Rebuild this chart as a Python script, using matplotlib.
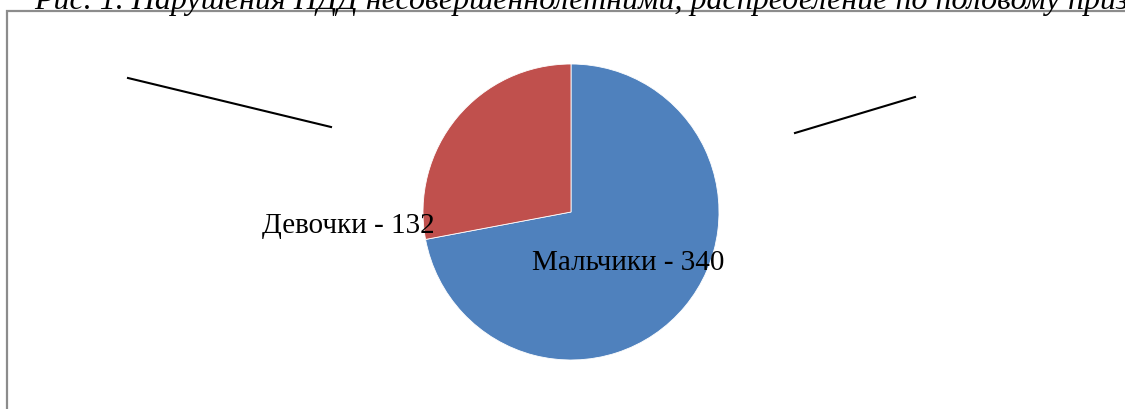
import matplotlib
matplotlib.use("Agg")
import matplotlib.pyplot as plt
from matplotlib.lines import Line2D
from matplotlib.patches import Rectangle

# data
categories = ["Мальчики", "Девочки"]
values = [340, 132]
colors = ["#4F81BD", "#C0504D"]
title = "Рис. 1. Нарушения ПДД несовершеннолетними, распределение по половому признаку"

W, H = 1125, 410
plt.rcParams["font.family"] = ["Liberation Serif", "DejaVu Serif"]

fig = plt.figure(figsize=(W / 100, H / 100), dpi=100)


def px(x, y):
    # pixel coords (top-left origin) -> figure fraction
    return x / W, 1 - y / H


# chart frame, cut by the image edges
fig.add_artist(Rectangle(px(7, 430), (W + 20) / W, 418 / H, transform=fig.transFigure,
                         fill=False, edgecolor="#8c8c8c", linewidth=1.6, clip_on=False))

# title (partly outside the picture)
tx, ty = px(34, 9)
fig.text(tx, ty, title, fontsize=23, fontstyle="italic", va="baseline", ha="left")

# pie
cx, cy, r = 571, 213, 148
l, b = px(cx - r, cy + r)
ax = fig.add_axes([l, b, 2 * r / W, 2 * r / H])
wedges, _ = ax.pie(values, colors=colors, startangle=90, counterclock=False,
                   wedgeprops=dict(edgecolor="white", linewidth=0.6))
ax.set_xlim(-1, 1)
ax.set_ylim(-1, 1)
ax.set_aspect("equal")
ax.axis("off")

label_pos = [(0.385, -0.335), (-1.505, -0.09)]
for name, v, (lx, ly) in zip(categories, values, label_pos):
    ax.text(lx, ly, f"{name} - {v}", fontsize=21, ha="center", va="center", clip_on=False)

# stray leader lines
for (x0, y0), (x1, y1) in [((128, 79), (331, 128)), ((795, 134), (915, 98))]:
    a0, b0 = px(x0, y0)
    a1, b1 = px(x1, y1)
    fig.add_artist(Line2D([a0, a1], [b0, b1], transform=fig.transFigure,
                          color="black", linewidth=1.5))

fig.savefig("out.png", dpi=100)
